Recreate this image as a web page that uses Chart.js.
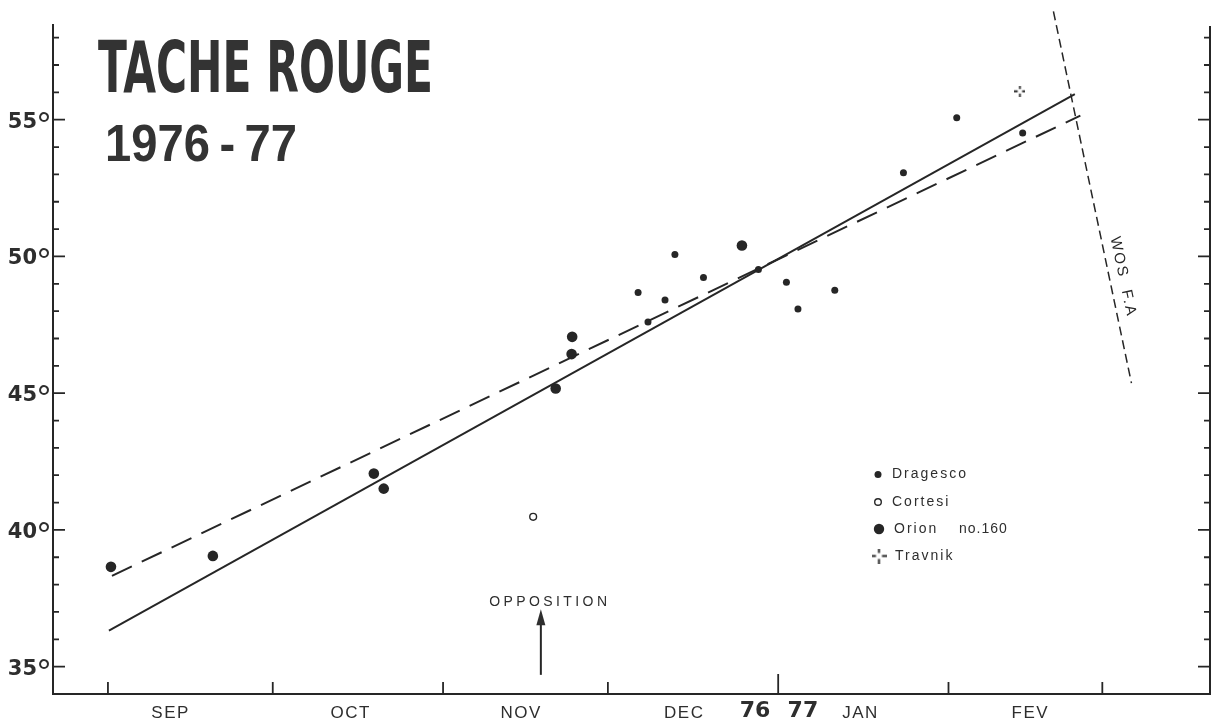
<!DOCTYPE html>
<html>
<head>
<meta charset="utf-8">
<title>Tache Rouge 1976-77</title>
<script src="https://cdn.jsdelivr.net/npm/chart.js@4.4.1/dist/chart.umd.min.js"></script>
<style>
  html, body { margin: 0; padding: 0; background: #fff; }
  #wrap { position: relative; width: 1217px; height: 725px; }
</style>
</head>
<body>
<div id="wrap"><canvas id="chart"></canvas></div>
<script>
// x values are days counted from 1 Sep 1976, y values are latitudes in degrees
const monthStartDays = [0, 30, 61, 91, 122, 153, 181];
const monthLabels = ["SEP", "OCT", "NOV", "DEC", "JAN", "FEV"];
const monthLabelDays = [11.4, 44.2, 75.2, 104.9, 137.0, 167.9];
const yearLabels = ["76", "77"];
const yearLabelDays = [117.8, 126.5];
const latTicks = [35, 40, 45, 50, 55];

const dragescoDays = [96.5, 98.3, 101.4, 103.2, 108.4, 118.4, 123.5, 125.6, 132.3, 144.8, 154.5, 166.5];
const dragescoLat = [48.68, 47.6, 48.41, 50.07, 49.23, 49.52, 49.06, 48.08, 48.76, 53.06, 55.07, 54.51];
const cortesiDays = [77.4];
const cortesiLat = [40.48];
const orionDays = [0.55, 19.1, 48.4, 50.2, 81.5, 84.4, 84.5, 115.4];
const orionLat = [38.65, 39.05, 42.06, 41.51, 45.17, 46.43, 47.06, 50.4];
const travnikDays = [166.0];
const travnikLat = [56.04];

const fitSolidDays = [0.18, 176.0];
const fitSolidLat = [36.32, 55.94];
const fitDashedDays = [0.73, 177.0];
const fitDashedLat = [38.32, 55.15];
const wosDays = [172.1, 186.3];
const wosLat = [58.96, 45.37];

const oppositionDay = 78.8;
const oppositionLat = [34.7, 37.1];

const legendLabels = ["Dragesco", "Cortesi", "Orion no.160", "Travnik"];

const INK = "#262626";
const TEXT = "#2e2e2e";

const pts = (xs, ys) => xs.map((x, i) => ({ x: x, y: ys[i] }));

// small "-|-" cross with an open centre, used for Travnik
function makeTravnikMark(size, lw) {
  const c = document.createElement("canvas");
  c.width = size;
  c.height = size;
  const g = c.getContext("2d");
  const m = size / 2, gap = size * 0.2;
  g.strokeStyle = INK;
  g.lineWidth = lw;
  g.beginPath();
  g.moveTo(0, m); g.lineTo(m - gap, m);
  g.moveTo(m + gap, m); g.lineTo(size, m);
  g.moveTo(m, 0); g.lineTo(m, m - gap);
  g.moveTo(m, m + gap); g.lineTo(m, size);
  g.stroke();
  return c;
}

const travnikMark = makeTravnikMark(11, 1.8);
const travnikLegendMark = makeTravnikMark(15, 2);

// draws text squeezed/stretched to a given width and cap scale
function fitText(ctx, text, x, baseline, width, font, sy) {
  ctx.font = font;
  const w = ctx.measureText(text).width;
  ctx.save();
  ctx.translate(x, baseline);
  ctx.scale(width / w, sy || 1);
  ctx.textAlign = "left";
  ctx.textBaseline = "alphabetic";
  ctx.fillText(text, 0, 0);
  ctx.restore();
}

const framePlugin = {
  id: "frame",
  afterDraw(chart) {
    const ctx = chart.ctx;
    const xs = chart.scales.x, ys = chart.scales.y;
    const L = chart.chartArea.left, R = chart.chartArea.right;
    const T = chart.chartArea.top, B = chart.chartArea.bottom;

    ctx.save();
    ctx.strokeStyle = INK;
    ctx.fillStyle = TEXT;
    ctx.lineCap = "butt";

    // axis lines
    ctx.lineWidth = 2;
    ctx.beginPath();
    ctx.moveTo(L, T); ctx.lineTo(L, B); ctx.lineTo(R, B); ctx.lineTo(R, T + 2);
    ctx.stroke();

    // latitude ticks, both sides, pointing inwards
    ctx.lineWidth = 1.8;
    for (let v = 35; v <= 58; v++) {
      const y = ys.getPixelForValue(v);
      const len = v % 5 === 0 ? 12 : 6;
      ctx.beginPath();
      ctx.moveTo(L, y); ctx.lineTo(L + len, y);
      ctx.moveTo(R, y); ctx.lineTo(R - len, y);
      ctx.stroke();
    }

    // month ticks, pointing up
    monthStartDays.forEach((d) => {
      const x = xs.getPixelForValue(d);
      const len = d === 122 ? 20 : 12;
      ctx.beginPath();
      ctx.moveTo(x, B); ctx.lineTo(x, B - len);
      ctx.stroke();
    });

    // latitude labels
    latTicks.forEach((v) => {
      const y = ys.getPixelForValue(v);
      ctx.font = "bold 21px 'DejaVu Sans'";
      ctx.textAlign = "right";
      ctx.textBaseline = "alphabetic";
      ctx.fillText(String(v), 37, y + 8);
      ctx.font = "32px 'DejaVu Sans'";
      ctx.textAlign = "left";
      ctx.fillText("°", 36, y + 16);
    });

    // month labels
    ctx.font = "17px 'Liberation Sans'";
    ctx.letterSpacing = "1.5px";
    ctx.textAlign = "center";
    ctx.textBaseline = "middle";
    monthLabels.forEach((m, i) => {
      ctx.fillText(m, xs.getPixelForValue(monthLabelDays[i]), 713);
    });
    ctx.letterSpacing = "0px";
    ctx.font = "bold 22px 'DejaVu Sans'";
    yearLabels.forEach((m, i) => {
      ctx.fillText(m, xs.getPixelForValue(yearLabelDays[i]), 711);
    });

    // title
    ctx.fillStyle = "#333";
    ctx.textAlign = "left";
    fitText(ctx, "TACHE ROUGE", 98, 92, 335, "bold 71px 'Liberation Sans Narrow', 'DejaVu Sans Condensed'");
    fitText(ctx, "1976\u2009-\u200977", 105, 161, 192, "bold 46px 'Liberation Sans'", 1.12);

    // opposition arrow
    ctx.fillStyle = TEXT;
    const ax = xs.getPixelForValue(oppositionDay);
    const ay0 = ys.getPixelForValue(oppositionLat[0]);
    const ay1 = ys.getPixelForValue(oppositionLat[1]);
    ctx.lineWidth = 2;
    ctx.beginPath();
    ctx.moveTo(ax, ay0); ctx.lineTo(ax, ay1 + 10);
    ctx.stroke();
    ctx.beginPath();
    ctx.moveTo(ax, ay1); ctx.lineTo(ax - 4.5, ay1 + 16); ctx.lineTo(ax + 4.5, ay1 + 16);
    ctx.closePath();
    ctx.fill();
    ctx.font = "14px 'Liberation Sans'";
    ctx.letterSpacing = "3.4px";
    ctx.textAlign = "center";
    ctx.textBaseline = "middle";
    ctx.fillText("OPPOSITION", ax + 9, 602);

    // WOS F.A label along its line
    const w0x = xs.getPixelForValue(wosDays[0]), w0y = ys.getPixelForValue(wosLat[0]);
    const w1x = xs.getPixelForValue(wosDays[1]), w1y = ys.getPixelForValue(wosLat[1]);
    const ang = Math.atan2(w1y - w0y, w1x - w0x);
    ctx.save();
    ctx.translate(1123, 277);
    ctx.rotate(ang);
    ctx.font = "15px 'Liberation Sans'";
    ctx.letterSpacing = "2px";
    ctx.fillStyle = INK;
    ctx.fillText("WOS  F.A", 0, 0);
    ctx.restore();

    // legend
    const lx = 878;
    const ly = [474.5, 502, 529, 556];
    ctx.font = "14px 'Liberation Sans'";
    ctx.letterSpacing = "2px";
    ctx.textAlign = "left";
    ctx.textBaseline = "middle";
    ctx.fillStyle = INK;
    ctx.beginPath(); ctx.arc(lx, ly[0], 3.5, 0, Math.PI * 2); ctx.fill();
    ctx.lineWidth = 1.4;
    ctx.beginPath(); ctx.arc(lx, ly[1], 3.3, 0, Math.PI * 2); ctx.stroke();
    ctx.beginPath(); ctx.arc(lx + 1, ly[2], 5.2, 0, Math.PI * 2); ctx.fill();
    ctx.drawImage(travnikLegendMark, lx + 1 - 7.5, ly[3] - 7.5);
    ctx.fillStyle = TEXT;
    ctx.fillText(legendLabels[0], 892, ly[0]);
    ctx.fillText(legendLabels[1], 892, ly[1]);
    const parts = legendLabels[2].split(" ");
    ctx.fillText(parts[0], 894, ly[2]);
    ctx.letterSpacing = "1px";
    ctx.fillText(parts[1], 959, ly[2]);
    ctx.letterSpacing = "2px";
    ctx.fillText(legendLabels[3], 895, ly[3]);

    ctx.restore();
  }
};

new Chart(document.getElementById("chart"), {
  type: "scatter",
  data: {
    datasets: [
      {
        label: "fit",
        type: "line",
        data: pts(fitSolidDays, fitSolidLat),
        borderColor: INK,
        borderWidth: 2,
        pointRadius: 0,
        fill: false
      },
      {
        label: "fit dashed",
        type: "line",
        data: pts(fitDashedDays, fitDashedLat),
        borderColor: INK,
        borderWidth: 2,
        borderDash: [22, 11],
        pointRadius: 0,
        fill: false
      },
      {
        label: "WOS F.A",
        type: "line",
        data: pts(wosDays, wosLat),
        borderColor: INK,
        borderWidth: 1.5,
        borderDash: [9, 5],
        pointRadius: 0,
        fill: false,
        clip: false
      },
      {
        label: legendLabels[0],
        data: pts(dragescoDays, dragescoLat),
        pointRadius: 3.5,
        backgroundColor: INK,
        borderWidth: 0
      },
      {
        label: legendLabels[1],
        data: pts(cortesiDays, cortesiLat),
        pointRadius: 3.4,
        backgroundColor: "#fff",
        borderColor: INK,
        borderWidth: 1.4
      },
      {
        label: legendLabels[2],
        data: pts(orionDays, orionLat),
        pointRadius: 5.3,
        backgroundColor: INK,
        borderWidth: 0
      },
      {
        label: legendLabels[3],
        data: pts(travnikDays, travnikLat),
        pointStyle: travnikMark,
        pointRadius: 6
      }
    ]
  },
  options: {
    responsive: true,
    maintainAspectRatio: false,
    animation: false,
    layout: { padding: { left: 53, right: 5, top: 24, bottom: 31 } },
    plugins: {
      legend: { display: false },
      tooltip: { enabled: false },
      title: { display: false }
    },
    scales: {
      x: { type: "linear", min: -10, max: 200.6, display: false },
      y: { type: "linear", min: 34, max: 58.5, display: false }
    }
  },
  plugins: [framePlugin]
});
</script>
</body>
</html>
